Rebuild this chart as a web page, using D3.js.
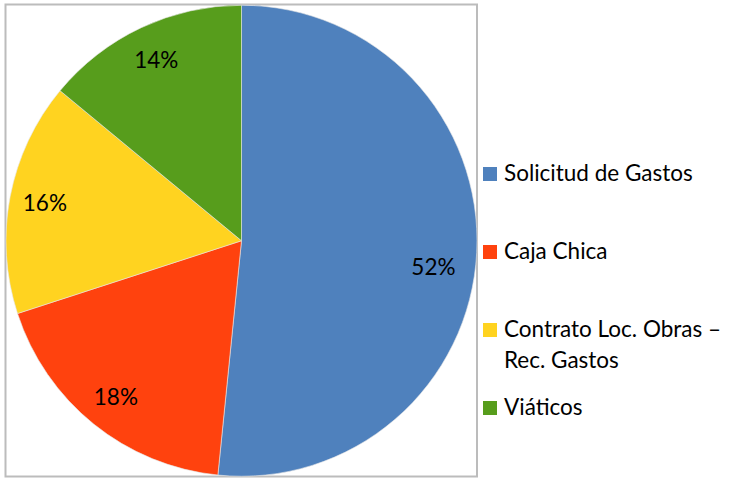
<!DOCTYPE html>
<html>
<head>
<meta charset="utf-8">
<script src="https://cdn.jsdelivr.net/npm/d3@7"></script>
<style>
  body { margin: 0; background: #fff; }
  svg { display: block; font-family: Lato, "Open Sans", sans-serif; }
</style>
</head>
<body>
<div id="chart-area"></div>
<script>
// Data
var categories = ["Solicitud de Gastos", "Caja Chica", "Contrato Loc. Obras – Rec. Gastos", "Viáticos"];
var legendLines = [["Solicitud de Gastos"], ["Caja Chica"], ["Contrato Loc. Obras –", "Rec. Gastos"], ["Viáticos"]];
var values = [51.6, 18.4, 16.0, 14.0];
var colors = ["#4f81bd", "#ff420e", "#ffd320", "#579d1c"];

var width = 736, height = 478;

var svg = d3.select("#chart-area").append("svg")
    .attr("width", width)
    .attr("height", height);

svg.append("rect")
    .attr("width", width).attr("height", height)
    .attr("fill", "#fff");

// Plot area border
svg.append("rect")
    .attr("x", 5.5).attr("y", 4.5)
    .attr("width", 471.5).attr("height", 472)
    .attr("fill", "none")
    .attr("stroke", "#bcbcbc")
    .attr("stroke-width", 2);

var cx = 241.5, cy = 240.75, radius = 235.5;

var g = svg.append("g")
    .attr("transform", "translate(" + cx + "," + cy + ")");

var total = d3.sum(values);
var pie = d3.pie().sort(null).value(function(d) { return d; });
var arc = d3.arc().innerRadius(0).outerRadius(radius);
var labelArc = d3.arc().innerRadius(radius * 0.85).outerRadius(radius * 0.85);

var arcs = pie(values);

g.selectAll("path.slice")
    .data(arcs)
    .enter().append("path")
    .attr("class", "slice")
    .attr("d", arc)
    .attr("fill", function(d, i) { return colors[i]; })
    .attr("stroke", "#e6e6e6")
    .attr("stroke-width", 0.6);

g.selectAll("text.pct")
    .data(arcs)
    .enter().append("text")
    .attr("class", "pct")
    .attr("transform", function(d, i) {
        var c = labelArc.centroid(d);
        // the big slice label sits a bit lower in the original
        if (i === 0) { c[0] -= 8; c[1] += 16; }
        return "translate(" + c + ")";
    })
    .attr("text-anchor", "middle")
    .attr("dy", "0.36em")
    .attr("font-size", 22.5)
    .attr("fill", "#000")
    .text(function(d) { return Math.round(d.value / total * 100) + "%"; });

// Legend
var ly = d3.scaleLinear().domain([0, categories.length - 1]).range([181, 415]);

var legend = svg.selectAll("g.legend")
    .data(categories)
    .enter().append("g")
    .attr("class", "legend")
    .attr("transform", function(d, i) { return "translate(483," + ly(i) + ")"; });

legend.append("rect")
    .attr("x", 0).attr("y", -14)
    .attr("width", 14).attr("height", 14)
    .attr("fill", function(d, i) { return colors[i]; });

legend.append("text")
    .attr("x", 21)
    .attr("font-size", 22.5)
    .attr("fill", "#000")
    .selectAll("tspan")
    .data(function(d, i) { return legendLines[i]; })
    .enter().append("tspan")
    .attr("x", 21)
    .attr("y", function(d, j) { return j * 31; })
    .text(function(d) { return d; });
</script>
</body>
</html>
